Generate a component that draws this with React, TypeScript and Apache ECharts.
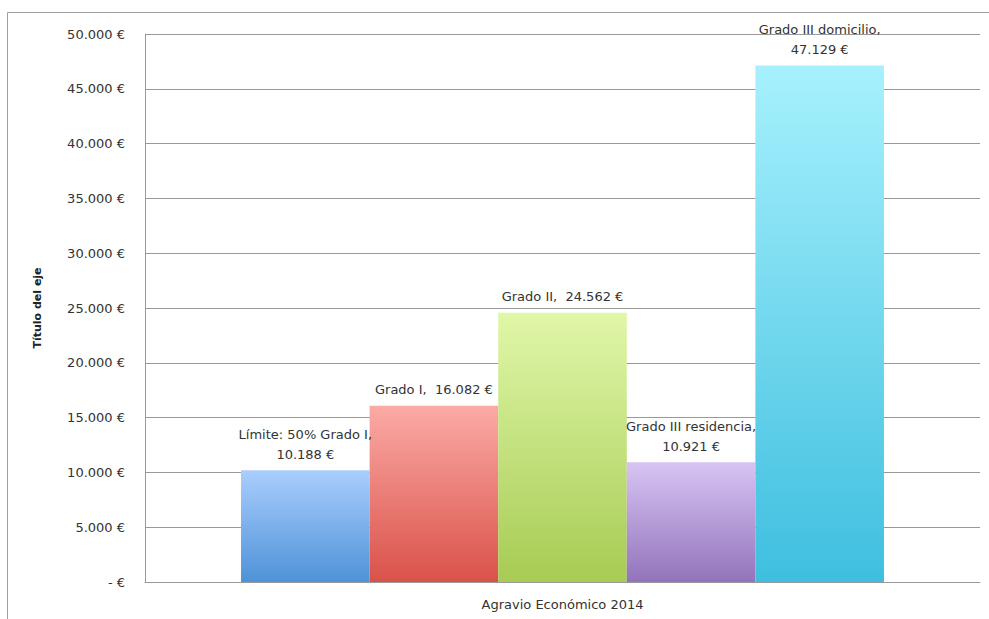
import React, { useEffect, useRef } from "react";
import * as echarts from "echarts";

const category = ["Agravio Económico 2014"];
const seriesNames = [
  "Límite: 50% Grado I",
  "Grado I",
  "Grado II",
  "Grado III residencia",
  "Grado III domicilio",
];
const seriesValues = [10188, 16082, 24562, 10921, 47129];
const labelSeparators = ["\n", "  ", "  ", "\n", "\n"];
const gradientTop = ["#aacefd", "#fcaaa5", "#e0f7a8", "#d7c4f3", "#a7f1fd"];
const gradientBottom = ["#4e92d8", "#d9524a", "#a7cb54", "#9373bb", "#3ebfdf"];
const yMin = 0;
const yMax = 50000;
const yInterval = 5000;

const fmt = (v: number) =>
  String(Math.round(v)).replace(/\B(?=(\d{3})+(?!\d))/g, ".");

const FONT = "'DejaVu Sans', sans-serif";

export default function App() {
  const ref = useRef<HTMLDivElement>(null);
  useEffect(() => {
    if (!ref.current) return;
    const chart = echarts.init(ref.current, null, { renderer: "svg" });
    chart.setOption({
      animation: false,
      backgroundColor: "#ffffff",
      graphic: [
        {
          type: "rect",
          shape: { x: 7.5, y: 12.5, width: 1100, height: 800 },
          style: { fill: "none", stroke: "#a0a0a0", lineWidth: 1 },
          silent: true,
        },
      ],
      grid: { left: 145, right: 9, top: 34, bottom: 37 },
      xAxis: {
        type: "category",
        data: category,
        axisLine: { lineStyle: { color: "#999999", width: 1 } },
        axisTick: { show: false },
        axisLabel: {
          color: "#333333",
          fontSize: 13,
          fontFamily: FONT,
          margin: 16,
        },
      },
      yAxis: {
        type: "value",
        min: yMin,
        max: yMax,
        interval: yInterval,
        name: "Título del eje",
        nameLocation: "middle",
        nameRotate: 90,
        nameGap: 102,
        nameTextStyle: {
          color: "#222222",
          fontSize: 11,
          fontWeight: "bold",
          fontFamily: FONT,
        },
        axisLine: { show: true, lineStyle: { color: "#999999", width: 1 } },
        axisTick: { show: false },
        splitLine: { lineStyle: { color: "#999999", width: 1 } },
        axisLabel: {
          color: "#333333",
          fontSize: 13,
          fontFamily: FONT,
          margin: 20,
          formatter: (v: number) => (v === 0 ? "- €" : fmt(v) + " €"),
        },
      },
      series: seriesNames.map((name, i) => ({
        type: "bar",
        name,
        data: [seriesValues[i]],
        barGap: "0%",
        barCategoryGap: "23%",
        itemStyle: {
          color: new echarts.graphic.LinearGradient(0, 0, 0, 1, [
            { offset: 0, color: gradientTop[i] },
            { offset: 1, color: gradientBottom[i] },
          ]),
        },
        label: {
          show: true,
          position: "top",
          distance: 6,
          color: "#333333",
          fontSize: 13,
          lineHeight: 20,
          fontFamily: FONT,
          align: "center",
          formatter: (p: any) =>
            name + "," + labelSeparators[i] + fmt(p.value) + " €",
        },
      })),
    });
    return () => chart.dispose();
  }, []);
  return (
    <div
      ref={ref}
      style={{ position: "fixed", left: 0, top: 0, width: 989, height: 619 }}
    />
  );
}
